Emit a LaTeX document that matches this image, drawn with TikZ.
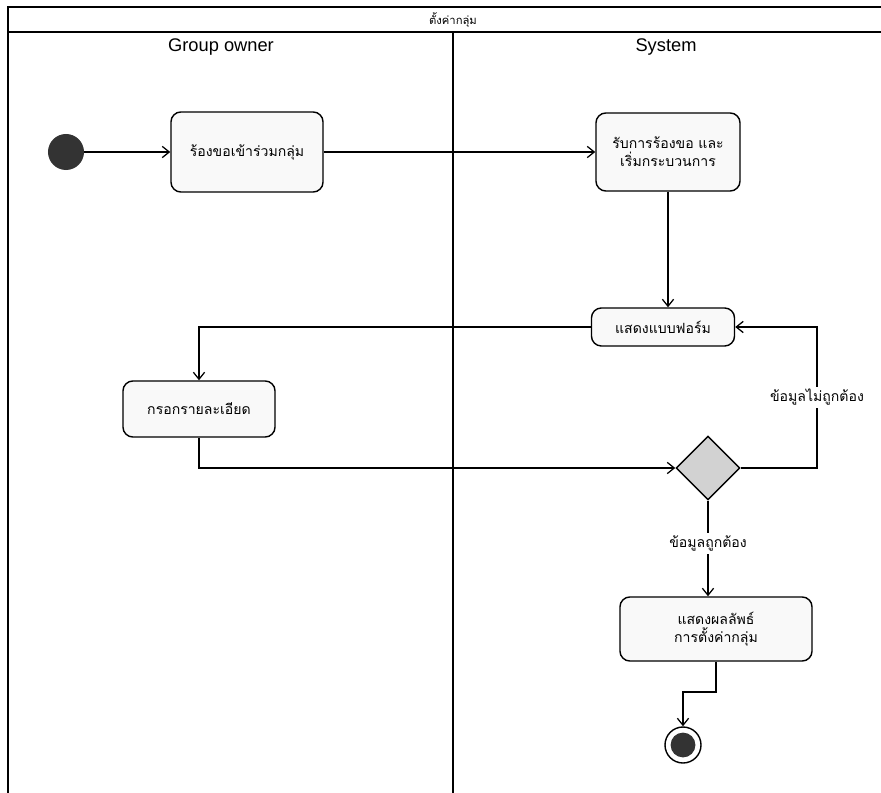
\documentclass[tikz,border=0pt]{standalone}
\usepackage{fontspec}
\setmainfont{Liberation Sans}
\newfontfamily\thaifont[Script=Thai]{Loma}
\usetikzlibrary{positioning,shapes.geometric,arrows.meta}

\begin{document}
\begin{tikzpicture}[
    x=0.025cm, y=-0.025cm,
    >={Straight Barb[length=5pt,width=8pt]},
    action/.style={rectangle, rounded corners=7pt, draw, line width=1pt, fill=gray!5, font=\thaifont\fontsize{10}{13}\selectfont, align=center, inner sep=2pt},
    decision/.style={diamond, draw, line width=1pt, fill=gray!35, minimum size=1.6cm, inner sep=0pt},
    flow/.style={->, line width=0.9pt},
    lane/.style={line width=1pt},
    guard/.style={fill=white, font=\thaifont\fontsize{10}{13}\selectfont, inner sep=2pt}
]
\useasboundingbox (0,0) rectangle (881,793);

% Swimlane frame
\draw[lane] (8,793) -- (8,7) -- (881,7);
\draw[lane] (8,32) -- (881,32);
\draw[lane] (453,32) -- (453,793);
\node[font=\thaifont\fontsize{8}{9}\selectfont] (title) at (453,20) {ตั้งค่ากลุ่ม};
\node[font=\fontsize{13}{15}\selectfont] (ownerhead) at (221,47) {Group owner};
\node[font=\fontsize{13}{15}\selectfont] (systemhead) at (666,47) {System};

% Define node positions
\node[circle, fill=black!80, minimum size=0.9cm, inner sep=0pt] (start) at (66,152) {};
\node[action, minimum width=3.8cm, minimum height=2cm] (req) at (247,152) {ร้องขอเข้าร่วมกลุ่ม};
\node[action, minimum width=3.6cm, minimum height=1.95cm] (accept) at (668,152) {รับการร้องขอ และ\\เริ่มกระบวนการ};
\node[action, minimum width=3.575cm, minimum height=0.95cm] (form) at (663,327) {แสดงแบบฟอร์ม};
\node[action, minimum width=3.8cm, minimum height=1.4cm] (fill) at (199,409) {กรอกรายละเอียด};
\node[decision] (check) at (708,468) {};
\node[action, minimum width=4.8cm, minimum height=1.6cm] (result) at (716,629) {แสดงผลลัพธ์\\การตั้งค่ากลุ่ม};
\node[circle, draw, line width=1pt, minimum size=0.9cm, inner sep=0pt] (endout) at (683,745) {};
\node[circle, fill=black!80, minimum size=0.62cm, inner sep=0pt] (endin) at (683,745) {};

\coordinate (loop) at (817,468);
\coordinate (bend) at (716,692);

% Draw control flow
\draw[flow] (start) -- (req);
\draw[flow] (req) -- (accept);
\draw[flow] (accept.south) -- (accept.south |- form.north);
\draw[flow] (form.west) -| (fill.north);
\draw[flow] (fill.south) |- (check.west);
\draw[flow] (check.east) -- (loop) |- (form.east) node[guard, pos=0.25] {ข้อมูลไม่ถูกต้อง};
\draw[flow] (check.south) -- (check.south |- result.north) node[guard, pos=0.45] {ข้อมูลถูกต้อง};
\draw[flow] (result.south) -- (bend) -| (endout.north);

\end{tikzpicture}
\end{document}
